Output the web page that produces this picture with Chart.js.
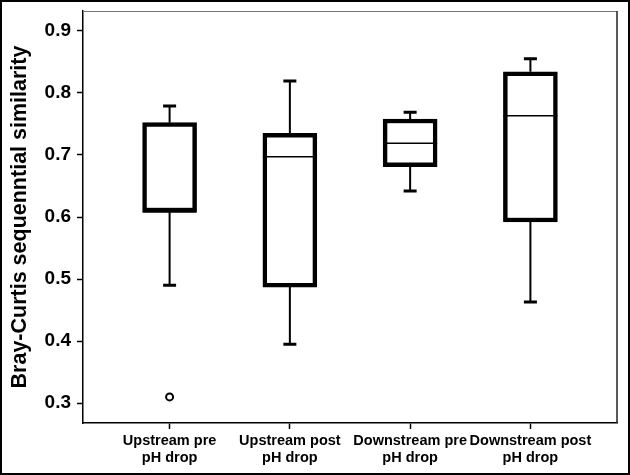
<!DOCTYPE html>
<html>
<head>
<meta charset="utf-8">
<script src="https://cdn.jsdelivr.net/npm/chart.js@4.4.0/dist/chart.umd.min.js"></script>
<style>
  html, body { margin: 0; padding: 0; background: #fff; }
</style>
</head>
<body>
<canvas id="myChart" width="630" height="475"></canvas>
<script>
// box plot values
const groups = [["Upstream pre", "pH drop"], ["Upstream post", "pH drop"], ["Downstream pre", "pH drop"], ["Downstream post", "pH drop"]];
const positions = [1, 2, 3, 4];
const whiskerLow = [0.490, 0.395, 0.642, 0.463];
const q1 = [0.608, 0.487, 0.681, 0.592];
const medians = [0.608, 0.697, 0.719, 0.763];
const q3 = [0.752, 0.735, 0.758, 0.834];
const whiskerHigh = [0.779, 0.819, 0.769, 0.855];
const outliers = [{ x: 1, y: 0.31 }];
const yTicks = [0.3, 0.4, 0.5, 0.6, 0.7, 0.8, 0.9];

const boxes = positions.map((p, i) => ({ x: p, y: [q1[i], q3[i]] }));

const boxParts = {
  id: "boxParts",
  beforeDatasetsDraw(chart) {
    const ctx = chart.ctx;
    const x = chart.scales.x;
    const y = chart.scales.y;
    ctx.save();
    ctx.strokeStyle = "#000";
    positions.forEach((p, i) => {
      const cx = x.getPixelForValue(p);
      ctx.lineWidth = 2;
      ctx.beginPath();
      ctx.moveTo(cx, y.getPixelForValue(whiskerHigh[i]));
      ctx.lineTo(cx, y.getPixelForValue(q3[i]));
      ctx.moveTo(cx, y.getPixelForValue(q1[i]));
      ctx.lineTo(cx, y.getPixelForValue(whiskerLow[i]));
      ctx.stroke();
      ctx.lineWidth = 3;
      ctx.beginPath();
      [whiskerHigh[i], whiskerLow[i]].forEach(function (v) {
        const py = y.getPixelForValue(v);
        ctx.moveTo(cx - 6.5, py);
        ctx.lineTo(cx + 6.5, py);
      });
      ctx.stroke();
    });
    ctx.restore();
  },
  afterDatasetsDraw(chart) {
    const ctx = chart.ctx;
    const y = chart.scales.y;
    const bars = chart.getDatasetMeta(0).data;
    ctx.save();
    ctx.strokeStyle = "#000";
    ctx.lineWidth = 1.5;
    bars.forEach((bar, i) => {
      const py = y.getPixelForValue(medians[i]);
      ctx.beginPath();
      ctx.moveTo(bar.x - bar.width / 2, py);
      ctx.lineTo(bar.x + bar.width / 2, py);
      ctx.stroke();
    });
    ctx.restore();
  },
  afterDraw(chart) {
    const ctx = chart.ctx;
    const a = chart.chartArea;
    ctx.save();
    // top and right edges of the plot frame
    ctx.strokeStyle = "#777";
    ctx.lineWidth = 1;
    ctx.beginPath();
    ctx.moveTo(a.left, a.top + 0.5);
    ctx.lineTo(a.right, a.top + 0.5);
    ctx.stroke();
    ctx.strokeStyle = "#222";
    ctx.lineWidth = 1.5;
    ctx.beginPath();
    ctx.moveTo(a.right, a.top);
    ctx.lineTo(a.right, a.bottom);
    ctx.stroke();
    // outer picture border
    ctx.strokeStyle = "#000";
    ctx.lineWidth = 2;
    ctx.strokeRect(1, 1, chart.width - 2, chart.height - 2);
    ctx.restore();
  }
};

const ctx = document.getElementById("myChart").getContext("2d");
const myChart = new Chart(ctx, {
  type: "bar",
  data: {
    datasets: [
      {
        label: "Boxes",
        data: boxes,
        backgroundColor: "#fff",
        borderColor: "#000",
        borderWidth: 4.5,
        borderSkipped: false,
        barThickness: 54,
      },
      {
        type: "scatter",
        label: "Outliers",
        data: outliers,
        pointRadius: 3.5,
        pointBorderWidth: 2,
        pointBackgroundColor: "#fff",
        pointBorderColor: "#000",
      },
    ],
  },
  options: {
    responsive: false,
    animation: false,
    events: [],
    layout: { padding: { top: 11, right: 13, left: 0, bottom: 0 } },
    plugins: {
      legend: { display: false },
      tooltip: { enabled: false },
    },
    scales: {
      x: {
        type: "linear",
        offset: false,
        min: 0.28,
        max: 4.72,
        afterBuildTicks: (scale) => {
          scale.ticks = positions.map((v) => ({ value: v }));
        },
        afterFit: (scale) => {
          scale.height = 52;
          scale.paddingLeft = 0;
          scale.paddingRight = 0;
        },
        ticks: {
          callback: (value) => groups[positions.indexOf(value)],
          color: "#000",
          font: { family: "'Liberation Sans', Arial, sans-serif", size: 14.5, weight: "bold", lineHeight: 1.2 },
          padding: 3,
          maxRotation: 0,
          minRotation: 0,
          autoSkip: false,
        },
        grid: { offset: false, drawOnChartArea: false, tickLength: 6, tickColor: "#000", tickWidth: 1.5 },
        border: { color: "#000", width: 1.5 },
      },
      y: {
        type: "linear",
        min: 0.268,
        max: 0.932,
        afterBuildTicks: (scale) => {
          scale.ticks = yTicks.map((v) => ({ value: v }));
        },
        afterFit: (scale) => {
          scale.width = 83;
          scale.paddingTop = 0;
          scale.paddingBottom = 0;
        },
        ticks: {
          callback: (value) => value.toFixed(1),
          color: "#000",
          font: { family: "'Liberation Sans', Arial, sans-serif", size: 19, weight: "bold" },
          padding: 6,
        },
        grid: { drawOnChartArea: false, tickLength: 6, tickColor: "#000", tickWidth: 1.5 },
        border: { color: "#000", width: 1.5 },
        title: {
          display: true,
          text: "Bray-Curtis sequenntial similarity",
          color: "#000",
          font: { family: "'Liberation Sans', Arial, sans-serif", size: 21.5, weight: "bold" },
          padding: { top: 7, bottom: 0 },
        },
      },
    },
  },
  plugins: [boxParts],
});
</script>
</body>
</html>
